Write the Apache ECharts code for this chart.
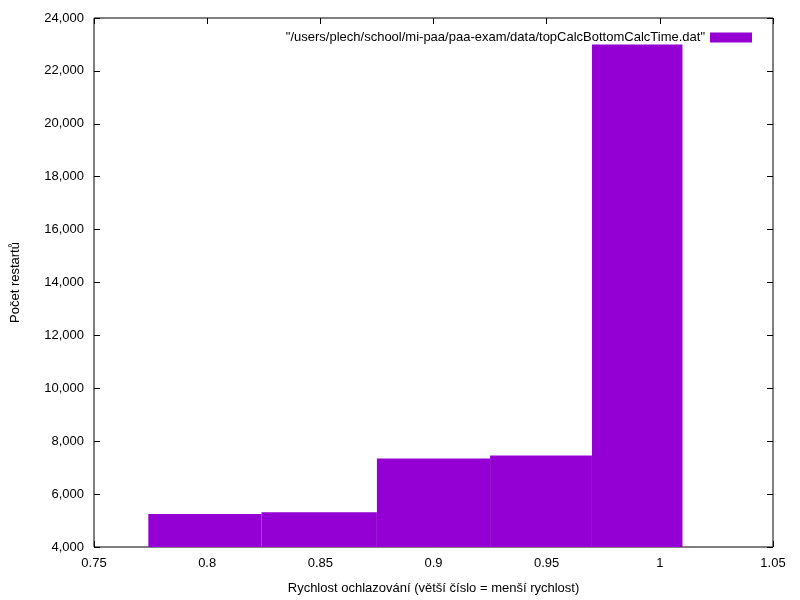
<!DOCTYPE html>
<html>
<head>
<meta charset="utf-8">
<script src="https://cdn.jsdelivr.net/npm/echarts@6/dist/echarts.min.js"></script>
<style>html,body{margin:0;padding:0;background:#fff}#chart{width:800px;height:600px}</style>
</head>
<body>
<div id="chart"></div>
<script>
// box edges (gnuplot boxes, autowidth) and heights
const boxLeft = [0.774, 0.824, 0.875, 0.925, 0.970];
const boxRight = [0.824, 0.875, 0.925, 0.970, 1.010];
const restarts = [5250, 5310, 7350, 7460, 23000];
const seriesName = '"/users/plech/school/mi-paa/paa-exam/data/topCalcBottomCalcTime.dat"';

const font = 'Liberation Sans, Arial, sans-serif';
const data = boxLeft.map((l, i) => [l, boxRight[i], restarts[i]]);

const chart = echarts.init(document.getElementById('chart'));
const tickStyle = {show: true, inside: true, length: 6, lineStyle: {color: '#000'}};
chart.setOption({
    animation: false,
    grid: {left: 94, right: 27, top: 18, bottom: 51, show: true, borderColor: '#000', borderWidth: 1},
    legend: {
        top: 26, right: 43, itemWidth: 42, itemHeight: 10, align: 'right',
        textStyle: {fontFamily: font, fontSize: 13, color: '#000'},
        data: [{name: seriesName, icon: 'rect'}]
    },
    xAxis: [{
        type: 'value', min: 0.75, max: 1.05, interval: 0.05,
        axisLine: {show: false}, axisTick: tickStyle, splitLine: {show: false},
        axisLabel: {fontFamily: font, fontSize: 13, color: '#000', margin: 10,
            formatter: v => String(+v.toFixed(2))},
        name: 'Rychlost ochlazování (větší číslo = menší rychlost)',
        nameLocation: 'middle', nameGap: 35,
        nameTextStyle: {fontFamily: font, fontSize: 13, color: '#000'}
    }, {
        type: 'value', position: 'top', min: 0.75, max: 1.05, interval: 0.05,
        axisLine: {show: false}, axisTick: tickStyle, axisLabel: {show: false}, splitLine: {show: false}
    }],
    yAxis: [{
        type: 'value', min: 4000, max: 24000, interval: 2000,
        axisLine: {show: false}, axisTick: tickStyle, splitLine: {show: false},
        axisLabel: {fontFamily: font, fontSize: 13, color: '#000', margin: 10},
        name: 'Počet restartů', nameLocation: 'middle', nameGap: 72,
        nameTextStyle: {fontFamily: font, fontSize: 13, color: '#000'}
    }, {
        type: 'value', position: 'right', min: 4000, max: 24000, interval: 2000,
        axisLine: {show: false}, axisTick: tickStyle, axisLabel: {show: false}, splitLine: {show: false}
    }],
    series: [{
        name: seriesName,
        type: 'custom',
        itemStyle: {color: '#9400d3'},
        encode: {x: [0, 1], y: 2},
        data: data,
        renderItem: (params, api) => {
            const p0 = api.coord([api.value(0), api.value(2)]);
            const p1 = api.coord([api.value(1), 4000]);
            return {
                type: 'rect',
                shape: {x: p0[0], y: p0[1], width: p1[0] - p0[0], height: p1[1] - p0[1]},
                style: {fill: '#9400d3'}
            };
        }
    }]
});
</script>
</body>
</html>
